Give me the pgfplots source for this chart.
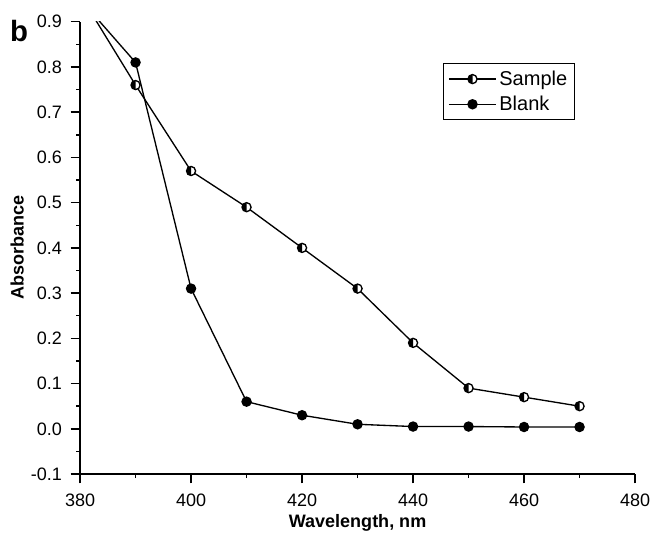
\documentclass[border=0pt]{standalone}
\usepackage{pgfplots}
\pgfplotsset{compat=1.18}
\usepackage{fontspec}
\setmainfont{Liberation Sans}

% circle with the left half filled black, the right half white
\pgfdeclareplotmark{halfleft}{%
  \pgfpathcircle{\pgfpointorigin}{\pgfplotmarksize}
  \pgfsetfillcolor{white}
  \pgfusepathqfill
  \pgfpathmoveto{\pgfqpoint{0pt}{\pgfplotmarksize}}
  \pgfpatharc{90}{270}{\pgfplotmarksize}
  \pgfpathclose
  \pgfsetfillcolor{black}
  \pgfusepathqfill
  \pgfpathcircle{\pgfpointorigin}{\pgfplotmarksize}
  \pgfusepathqstroke
}

\begin{document}
\begin{tikzpicture}
\begin{axis}[
    name=ax,
    scale only axis,
    width=416pt, height=339pt,
    xmin=380, xmax=480, ymin=-0.1, ymax=0.9,
    axis x line=bottom, axis y line=left,
    axis line style={-, line width=1.1pt},
    xtick={380,400,...,480},
    ytick={-0.1,0,0.1,0.2,0.3,0.4,0.5,0.6,0.7,0.8,0.9},
    minor x tick num=1, minor y tick num=1,
    tick align=outside,
    major tick length=7pt, minor tick length=3pt,
    tick style={line width=1.1pt, black},
    yticklabel style={xshift=-3pt},
    yticklabel style={/pgf/number format/.cd, fixed, fixed zerofill, precision=1},
    xticklabel style={yshift=-4pt},
    /pgf/number format/assume math mode=true,
    ticklabel style={font=\fontsize{13.5}{16}\selectfont},
    xlabel={\bfseries Wavelength, nm},
    ylabel={\bfseries Absorbance},
    xlabel style={at={(axis description cs:0.5,-0.108)}, anchor=center},
    ylabel style={at={(axis description cs:-0.093,0.5)}, anchor=south},
    label style={font=\fontsize{13.5}{16}\selectfont},
    legend style={at={(0.654,0.909)}, anchor=north west, draw=black,
        line width=0.9pt, font=\fontsize{15}{18}\selectfont,
        inner xsep=3.5pt, inner ysep=3.5pt, row sep=2.5pt},
    legend cell align=left,
    legend image code/.code={
        \draw[mark repeat=2, mark phase=2]
            plot coordinates {(0cm,0cm) (0.62cm,0cm) (1.24cm,0cm)};},
    every axis plot/.append style={line width=1pt, black, mark size=3.4pt},
]
\addplot[mark=halfleft] coordinates {
    (380,0.96) (390,0.76) (400,0.57) (410,0.49) (420,0.40) (430,0.31)
    (440,0.19) (450,0.09) (460,0.07) (470,0.05)};
\addlegendentry{Sample}
\addplot[mark=*, mark options={fill=black}] coordinates {
    (380,0.95) (390,0.81) (400,0.31) (410,0.06) (420,0.03) (430,0.01)
    (440,0.005) (450,0.005) (460,0.004) (470,0.004)};
\addlegendentry{Blank}
\end{axis}
\node[font=\bfseries\fontsize{22}{22}\selectfont] at ([xshift=-45.7pt,yshift=332pt]ax.south west) {b};
\pgfresetboundingbox
\path ([shift={(-60pt,-44.2pt)}]ax.south west) rectangle ([shift={(428.7pt,355.3pt)}]ax.south west);
\end{tikzpicture}
\end{document}
